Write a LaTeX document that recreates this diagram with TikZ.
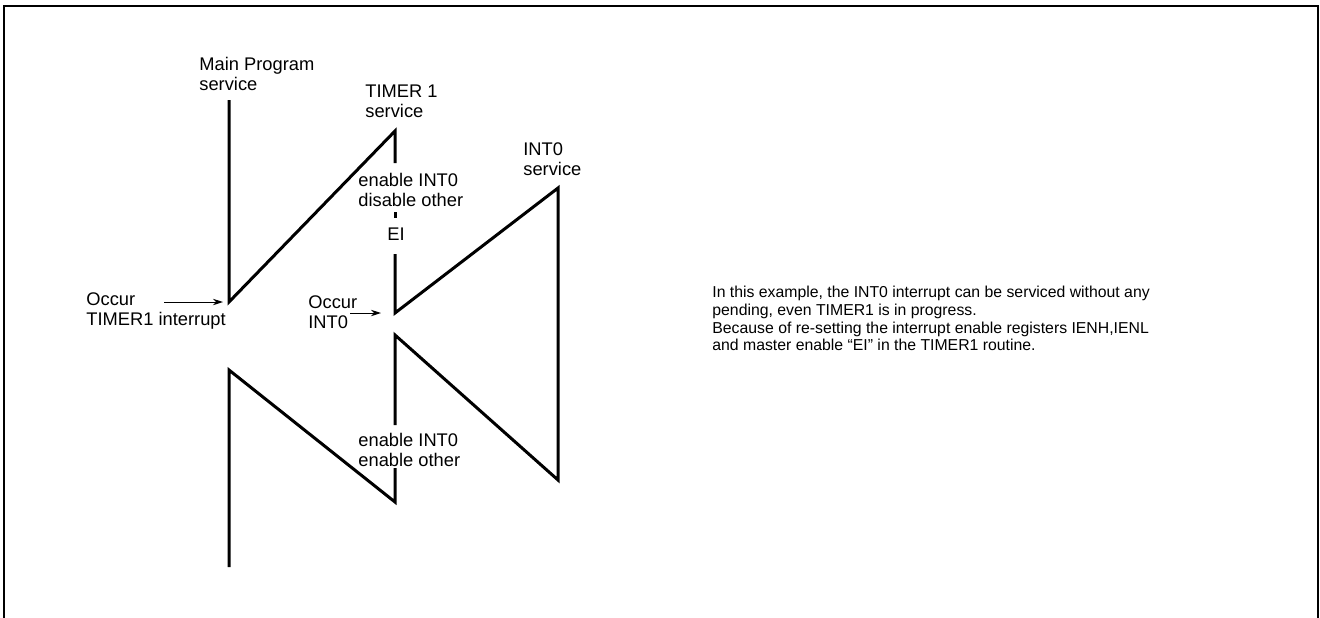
\documentclass[tikz,border=0pt]{standalone}
\usepackage{fontspec}
\setmainfont{Liberation Sans}
\usetikzlibrary{arrows.meta}
\begin{document}
\begin{tikzpicture}[x=0.5pt,y=-0.5pt,
  lbl/.style={anchor=north west,inner sep=0pt,align=left,font=\fontsize{9.15}{10}\selectfont},
  note/.style={anchor=north west,inner sep=0pt,align=left,font=\fontsize{7.9}{8.8}\selectfont},
  trace/.style={line width=1.5pt,line cap=butt,line join=miter},
  ptr/.style={line width=0.5pt,-{Stealth[length=5pt,width=3.2pt]}},
  frame/.style={line width=1pt}]
\useasboundingbox (0,0) rectangle (1320,617);
% frame
\coordinate (fbl) at (4,619);
\coordinate (ftl) at (4,6);
\coordinate (ftr) at (1318,6);
\coordinate (fbr) at (1318,619);
\draw[frame] (fbl) -- (ftl) -- (ftr) -- (fbr);
% vertices
\coordinate (m0) at (229,100);
\coordinate (m1) at (229,302);
\coordinate (t0) at (395,131);
\coordinate (t1) at (395,163);
\coordinate (t2) at (395,212);
\coordinate (t3) at (395,218);
\coordinate (t4) at (395,254);
\coordinate (t5) at (395,313);
\coordinate (i0) at (558,188);
\coordinate (i1) at (558,480);
\coordinate (t6) at (395,335);
\coordinate (t7) at (395,425);
\coordinate (t8) at (395,468);
\coordinate (t9) at (395,502);
\coordinate (m2) at (229,370);
\coordinate (m3) at (229,567);
% traces
\draw[trace] (m0) -- (m1) -- (t0) -- (t1);
\draw[trace] (t2) -- (t3);
\draw[trace] (t4) -- (t5) -- (i0) -- (i1) -- (t6) -- (t7);
\draw[trace] (t8) -- (t9) -- (m2) -- (m3);
% labels
\node[lbl] (mainlbl) at (199,57) {Main Program\\service};
\node[lbl] (timlbl) at (365,85) {TIMER 1\\service};
\node[lbl] (intlbl) at (523,142) {INT0\\service};
\node[lbl] (dislbl) at (358,173) {enable INT0\\disable other};
\node[lbl,anchor=north] (eilbl) at (396,227) {EI};
\node[lbl] (occ1) at (86,292) {Occur\\TIMER1 interrupt};
\node[lbl] (occ2) at (308,295) {Occur\\INT0};
\node[lbl] (enlbl) at (358,433) {enable INT0\\enable other};
% arrows
\coordinate (a1s) at (164,302);
\coordinate (a2s) at (350,313);
\draw[ptr] (a1s) -- ([xshift=-3]m1);
\draw[ptr] (a2s) -- ([xshift=-7]t5);
% note
\node[note] (notelbl) at (712,286) {In this example, the INT0 interrupt can be serviced without any\\pending, even TIMER1 is in progress.\\Because of re-setting the interrupt enable registers IENH,IENL\\and master enable “EI” in the TIMER1 routine.};
\end{tikzpicture}
\end{document}
